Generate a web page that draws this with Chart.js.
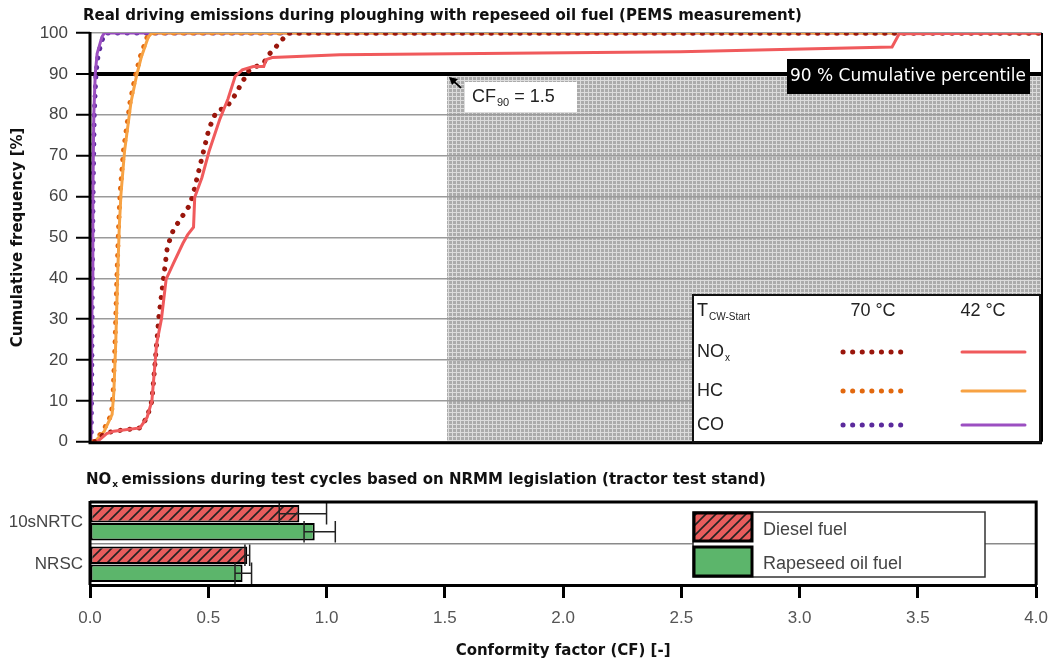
<!DOCTYPE html>
<html>
<head>
<meta charset="utf-8">
<script src="https://cdn.jsdelivr.net/npm/chart.js@4.4.1/dist/chart.umd.min.js"></script>
<style>
  body { margin: 0; background: #fff; }
  #wrap { position: relative; width: 1058px; height: 666px; }
  #topChart { position: absolute; left: 0; top: 0; }
  #barChart { position: absolute; left: 0; top: 460px; }
</style>
</head>
<body>
<div id="wrap">
  <canvas id="topChart" width="1058" height="460"></canvas>
  <canvas id="barChart" width="1058" height="206"></canvas>
</div>
<script>
// cumulative curves, CF on x, cumulative frequency [%] on y
var noxWarmX = [0.02, 0.06, 0.1, 0.21, 0.24, 0.26, 0.27, 0.28, 0.29, 0.31, 0.325, 0.35, 0.38, 0.42, 0.435, 0.46, 0.5, 0.53, 0.575, 0.6, 0.64, 0.67, 0.73, 0.756, 0.8, 0.83, 4.0];
var noxWarmY = [0, 2, 2.6, 3.4, 6, 10, 17, 24, 31, 40.5, 47.7, 51.8, 54.5, 58, 61, 67, 76.6, 80.7, 82, 83.9, 88, 91, 92.7, 95, 97.8, 100, 100];
var noxColdX = [0.03, 0.07, 0.1, 0.21, 0.24, 0.26, 0.28, 0.30, 0.32, 0.35, 0.39, 0.41, 0.435, 0.44, 0.47, 0.5, 0.546, 0.58, 0.61, 0.64, 0.686, 0.73, 0.74, 0.765, 1.05, 2.48, 3.37, 3.4, 4.0];
var noxColdY = [0, 2, 2.6, 3.4, 6, 10, 24, 30, 39.8, 43.6, 48.5, 50.6, 52.5, 59.8, 64.6, 71, 79, 83.9, 89.4, 91, 91.8, 91.8, 93.5, 94, 94.7, 95.4, 96.6, 99.8, 100];
var hcWarmX = [0.015, 0.055, 0.09, 0.097, 0.105, 0.113, 0.12, 0.126, 0.14, 0.168, 0.19, 0.21, 0.24, 0.255, 4.0];
var hcWarmY = [0, 2.6, 6.7, 12, 24, 40.5, 52.5, 60.5, 71, 83, 89.4, 94, 99, 100, 100];
var hcColdX = [0.02, 0.06, 0.093, 0.1, 0.108, 0.116, 0.123, 0.13, 0.145, 0.172, 0.195, 0.215, 0.245, 0.26, 4.0];
var hcColdY = [0, 2.6, 6.7, 12, 24, 40.5, 52.5, 60.5, 71, 83, 89.4, 94, 99, 100, 100];
var coWarmX = [0.005, 0.008, 0.01, 0.013, 0.018, 0.025, 0.035, 0.055, 0.065, 4.0];
var coWarmY = [0, 20, 40, 60, 80, 90, 95, 99, 100, 100];
var coColdX = [0.004, 0.007, 0.009, 0.012, 0.016, 0.022, 0.03, 0.05, 0.06, 4.0];
var coColdY = [0, 20, 40, 60, 80, 90, 95, 99, 100, 100];

var cfLimit = 1.5;
var percentile = 90;

// NRMM test cycle bars
var cycles = ["10sNRTC", "NRSC"];
var dieselCF = [0.885, 0.665];
var dieselLow = [0.80, 0.655];
var dieselHigh = [1.0, 0.675];
var rapeCF = [0.95, 0.645];
var rapeLow = [0.905, 0.613];
var rapeHigh = [1.037, 0.683];
var cfTicks = [0, 0.5, 1.0, 1.5, 2.0, 2.5, 3.0, 3.5, 4.0];

var fontMain = "'Liberation Sans', Arial, sans-serif";
var fontBold = "'DejaVu Sans', 'Liberation Sans', sans-serif";

function pts(xs, ys) {
  return xs.map(function (v, i) { return {x: v, y: ys[i]}; });
}

// grey texture for the zone above CF 1.5
var hc = document.createElement("canvas");
hc.width = 4; hc.height = 4;
var g = hc.getContext("2d");
g.fillStyle = "#ababab"; g.fillRect(0, 0, 4, 4);
g.fillStyle = "#dcdcdc"; g.fillRect(0, 0, 4, 1); g.fillRect(0, 0, 1, 4);
var greyZone = g.createPattern(hc, "repeat");

// red hatched fill for diesel
var dc = document.createElement("canvas");
dc.width = 10; dc.height = 10;
var d = dc.getContext("2d");
d.fillStyle = "#e85c5c"; d.fillRect(0, 0, 10, 10);
d.strokeStyle = "#222"; d.lineWidth = 1.6;
d.beginPath();
d.moveTo(-1, 11); d.lineTo(11, -1);
d.moveTo(-1, 1); d.lineTo(1, -1);
d.moveTo(9, 11); d.lineTo(11, 9);
d.stroke();
var dieselFill = d.createPattern(dc, "repeat");

function dotted(color) {
  return {borderColor: color, borderWidth: 5, borderDash: [0.1, 9.5], borderCapStyle: "round", pointRadius: 0, showLine: true, tension: 0};
}
function solid(color) {
  return {borderColor: color, borderWidth: 3, pointRadius: 0, showLine: true, tension: 0};
}

function subText(ctx, x, y, main, sub, size, subSize) {
  ctx.font = size + "px " + fontMain;
  ctx.fillText(main, x, y);
  var w = ctx.measureText(main).width;
  ctx.font = subSize + "px " + fontMain;
  ctx.fillText(sub, x + w + 1, y + size * 0.35);
  return w + 1 + ctx.measureText(sub).width;
}

var topDecor = {
  id: "topDecor",
  beforeDraw: function (chart) {
    var ctx = chart.ctx, a = chart.chartArea, x = chart.scales.x, y = chart.scales.y;
    var x0 = x.getPixelForValue(cfLimit), y0 = y.getPixelForValue(percentile);
    ctx.save();
    ctx.fillStyle = greyZone;
    ctx.fillRect(x0, y0, a.right - x0, a.bottom - y0);
    ctx.restore();
  },
  afterDraw: function (chart) {
    var ctx = chart.ctx, a = chart.chartArea, x = chart.scales.x, y = chart.scales.y;
    var ds = chart.data.datasets;
    ctx.save();
    // frame
    ctx.strokeStyle = "#000";
    ctx.lineWidth = 2;
    ctx.beginPath(); ctx.moveTo(a.right, a.top); ctx.lineTo(a.right, a.bottom); ctx.stroke();
    ctx.lineWidth = 3;
    ctx.beginPath(); ctx.moveTo(a.left, a.top - 1); ctx.lineTo(a.left, a.bottom + 1); ctx.lineTo(a.right, a.bottom + 1); ctx.stroke();

    // title
    ctx.fillStyle = "#111";
    ctx.textBaseline = "middle";
    ctx.textAlign = "left";
    ctx.font = "bold 15px " + fontBold;
    ctx.fillText("Real driving emissions during ploughing with repeseed oil fuel (PEMS measurement)", 83, 16);

    // 90 % label
    ctx.fillStyle = "#000";
    ctx.fillRect(787, 59, 243, 35);
    ctx.fillStyle = "#fff";
    ctx.textAlign = "center";
    ctx.font = "17px " + fontBold;
    ctx.fillText("90 % Cumulative percentile", 908, 77);

    // CF90 label and arrow
    var px = x.getPixelForValue(cfLimit), py = y.getPixelForValue(percentile);
    ctx.fillStyle = "#fff";
    ctx.fillRect(465, 82, 112, 30);
    ctx.fillStyle = "#222";
    ctx.textAlign = "left";
    var w = subText(ctx, 472, 97, "CF", "90", 18, 11);
    ctx.font = "18px " + fontMain;
    ctx.fillText(" = 1.5", 472 + w, 97);
    ctx.strokeStyle = "#000";
    ctx.lineWidth = 2;
    ctx.beginPath(); ctx.moveTo(px + 14, py + 14); ctx.lineTo(px + 4, py + 5); ctx.stroke();
    ctx.fillStyle = "#000";
    ctx.beginPath(); ctx.moveTo(px + 2, py + 3); ctx.lineTo(px + 11, py + 5); ctx.lineTo(px + 5, py + 11); ctx.closePath(); ctx.fill();

    // legend table
    ctx.fillStyle = "#fff";
    ctx.fillRect(693, 295, 347, 147);
    ctx.strokeStyle = "#111";
    ctx.lineWidth = 2;
    ctx.strokeRect(693, 295, 347, 147);
    ctx.fillStyle = "#222";
    ctx.textAlign = "left";
    subText(ctx, 697, 311, "T", "CW-Start", 18, 10);
    ctx.font = "18px " + fontMain;
    ctx.textAlign = "center";
    ctx.fillText("70 °C", 873, 311);
    ctx.fillText("42 °C", 983, 311);
    ctx.textAlign = "left";
    var rows = [["NO", "x", 352, 1, 0], ["HC", "", 391, 3, 2], ["CO", "", 425, 5, 4]];
    rows.forEach(function (r) {
      ctx.fillStyle = "#222";
      if (r[1]) subText(ctx, 697, r[2], r[0], r[1], 18, 10);
      else { ctx.font = "18px " + fontMain; ctx.fillText(r[0], 697, r[2]); }
      var dw = ds[r[3]], sw = ds[r[4]];
      ctx.lineCap = "round";
      ctx.strokeStyle = dw.borderColor;
      ctx.lineWidth = dw.borderWidth;
      ctx.setLineDash(dw.borderDash);
      ctx.beginPath(); ctx.moveTo(843, r[2]); ctx.lineTo(903, r[2]); ctx.stroke();
      ctx.setLineDash([]);
      ctx.strokeStyle = sw.borderColor;
      ctx.lineWidth = sw.borderWidth;
      ctx.beginPath(); ctx.moveTo(962, r[2]); ctx.lineTo(1025, r[2]); ctx.stroke();
    });
    ctx.restore();
  }
};

new Chart(document.getElementById("topChart"), {
  type: "scatter",
  data: {
    datasets: [
      Object.assign({label: "NOx 42 °C", data: pts(noxColdX, noxColdY)}, solid("#f05a5c")),
      Object.assign({label: "NOx 70 °C", data: pts(noxWarmX, noxWarmY)}, dotted("#9a160c")),
      Object.assign({label: "HC 42 °C", data: pts(hcColdX, hcColdY)}, solid("#f7a243")),
      Object.assign({label: "HC 70 °C", data: pts(hcWarmX, hcWarmY)}, dotted("#e2680e")),
      Object.assign({label: "CO 42 °C", data: pts(coColdX, coColdY)}, solid("#9b4fc1")),
      Object.assign({label: "CO 70 °C", data: pts(coWarmX, coWarmY)}, dotted("#5b2a9c"))
    ]
  },
  options: {
    responsive: false,
    animation: false,
    layout: {padding: {left: 0, right: 16, top: 33, bottom: 11}},
    plugins: {legend: {display: false}, tooltip: {enabled: false}},
    scales: {
      x: {type: "linear", min: 0, max: 4, display: false},
      y: {
        min: 0, max: 100,
        afterFit: function (s) { s.width = 90; },
        ticks: {stepSize: 10, color: "#444", padding: 8, font: {size: 17, family: fontMain}},
        grid: {
          color: function (c) { return c.tick.value === percentile ? "#000" : "#9a9a9a"; },
          lineWidth: function (c) { return c.tick.value === percentile ? 4 : 1.5; },
          tickColor: "#000", tickWidth: 2, tickLength: 14
        },
        border: {display: false},
        title: {display: true, text: "Cumulative frequency [%]", color: "#111", padding: {top: 9}, font: {size: 15, weight: "bold", family: fontBold}}
      }
    }
  },
  plugins: [topDecor]
});

var barDecor = {
  id: "barDecor",
  afterDatasetsDraw: function (chart) {
    var ctx = chart.ctx, x = chart.scales.x;
    var sets = [[dieselLow, dieselHigh], [rapeLow, rapeHigh]];
    ctx.save();
    ctx.strokeStyle = "#222";
    ctx.lineWidth = 1.5;
    sets.forEach(function (s, di) {
      chart.getDatasetMeta(di).data.forEach(function (bar, i) {
        var lo = x.getPixelForValue(s[0][i]), hi = x.getPixelForValue(s[1][i]);
        var h = bar.height / 2 + 2;
        ctx.beginPath();
        ctx.moveTo(lo, bar.y); ctx.lineTo(hi, bar.y);
        ctx.moveTo(lo, bar.y - h); ctx.lineTo(lo, bar.y + h);
        ctx.moveTo(hi, bar.y - h); ctx.lineTo(hi, bar.y + h);
        ctx.stroke();
      });
    });
    ctx.restore();
  },
  afterDraw: function (chart) {
    var ctx = chart.ctx, a = chart.chartArea;
    ctx.save();
    ctx.strokeStyle = "#000";
    ctx.lineWidth = 3;
    ctx.beginPath();
    ctx.moveTo(a.left, a.top); ctx.lineTo(a.right, a.top); ctx.lineTo(a.right, a.bottom);
    ctx.moveTo(a.left, a.top - 1); ctx.lineTo(a.left, a.bottom);
    ctx.stroke();

    ctx.fillStyle = "#111";
    ctx.textBaseline = "middle";
    ctx.textAlign = "left";
    ctx.font = "bold 15px " + fontBold;
    ctx.fillText("NO", 86, 20);
    var w = ctx.measureText("NO").width;
    ctx.font = "bold 9px " + fontBold;
    ctx.fillText("x", 86 + w + 1, 25);
    ctx.font = "bold 15px " + fontBold;
    ctx.fillText(" emissions during test cycles based on NRMM legislation (tractor test stand)", 86 + w + 5, 20);

    // legend
    ctx.fillStyle = "#fff";
    ctx.fillRect(693, 52, 292, 65);
    ctx.strokeStyle = "#333";
    ctx.lineWidth = 1.5;
    ctx.strokeRect(693, 52, 292, 65);
    var ds = chart.data.datasets;
    ctx.lineWidth = 3;
    ctx.strokeStyle = "#000";
    ctx.fillStyle = ds[0].backgroundColor;
    ctx.fillRect(694, 53, 58, 28); ctx.strokeRect(694, 53, 58, 28);
    ctx.fillStyle = ds[1].backgroundColor;
    ctx.fillRect(694, 87, 58, 29); ctx.strokeRect(694, 87, 58, 29);
    ctx.fillStyle = "#444";
    ctx.font = "18px " + fontMain;
    ctx.fillText(ds[0].label, 763, 70);
    ctx.fillText(ds[1].label, 763, 104);
    ctx.restore();
  }
};

new Chart(document.getElementById("barChart"), {
  type: "bar",
  data: {
    labels: cycles,
    datasets: [
      {label: "Diesel fuel", data: dieselCF, backgroundColor: dieselFill, borderColor: "#000", borderWidth: 2, borderSkipped: false},
      {label: "Rapeseed oil fuel", data: rapeCF, backgroundColor: "#5cb56b", borderColor: "#000", borderWidth: 2, borderSkipped: false}
    ]
  },
  options: {
    indexAxis: "y",
    responsive: false,
    animation: false,
    layout: {padding: {left: 0, right: 16, top: 42, bottom: 0}},
    datasets: {bar: {categoryPercentage: 0.86, barPercentage: 0.98}},
    plugins: {legend: {display: false}, tooltip: {enabled: false}},
    scales: {
      x: {
        type: "linear", min: 0, max: 4,
        afterFit: function (s) { s.height = 81; },
        afterBuildTicks: function (s) { s.ticks = cfTicks.map(function (v) { return {value: v}; }); },
        ticks: {color: "#555", padding: 10, font: {size: 17, family: fontMain}, callback: function (v) { return v.toFixed(1); }},
        grid: {drawOnChartArea: false, tickColor: "#000", tickWidth: 3, tickLength: 13},
        border: {color: "#000", width: 3},
        title: {display: true, text: "Conformity factor (CF) [-]", color: "#111", padding: {bottom: 6}, font: {size: 15, weight: "bold", family: fontBold}}
      },
      y: {
        afterFit: function (s) { s.width = 90; },
        ticks: {color: "#444", padding: 7, font: {size: 17, family: fontMain}},
        grid: {color: "#8a8a8a", lineWidth: 1.5, drawTicks: false},
        border: {display: false}
      }
    }
  },
  plugins: [barDecor]
});
</script>
</body>
</html>
